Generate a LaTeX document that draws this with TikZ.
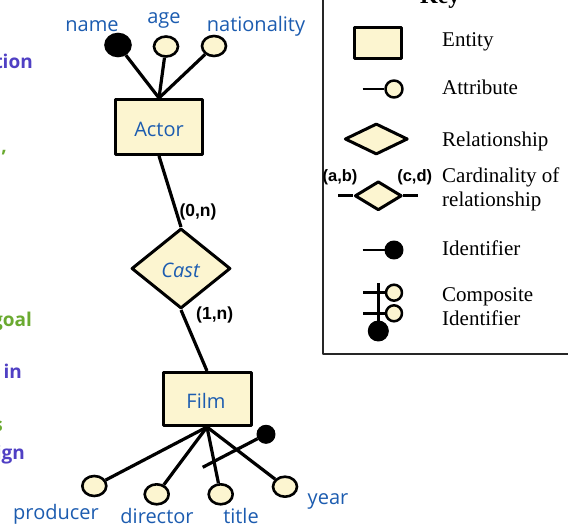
\documentclass[tikz,border=0pt]{standalone}
\usepackage{fontspec}
\setmainfont{Liberation Serif}
\newfontfamily\erfont{Open Sans}
\newfontfamily\cardfont{Liberation Sans}
\usetikzlibrary{shapes.geometric}

\definecolor{cream}{RGB}{252,245,208}
\definecolor{erblue}{RGB}{28,92,176}
\definecolor{notepurple}{RGB}{80,64,196}
\definecolor{notegreen}{RGB}{106,170,48}

\begin{document}
\begin{tikzpicture}[x=1pt,y=-1pt,line join=round,
  entity/.style={draw,line width=3pt,fill=cream,inner sep=0pt},
  relation/.style={draw,diamond,line width=3pt,fill=cream,inner sep=0pt},
  attr/.style={draw,ellipse,line width=2.6pt,fill=cream,inner sep=0pt,
               minimum width=24pt,minimum height=20pt},
  ident/.style={attr,fill=black,minimum width=25pt,minimum height=22pt},
  dot/.style={circle,fill=black,draw,line width=1pt,inner sep=0pt,minimum size=#1},
  keycirc/.style={circle,draw,line width=2.5pt,fill=cream,inner sep=0pt,minimum size=#1},
  link/.style={line width=3.2pt},
  erlabel/.style={text=erblue,font=\erfont\fontsize{20}{24}\selectfont,inner sep=0pt,anchor=base},
  card/.style={font=\cardfont\bfseries\fontsize{17.5}{21}\selectfont,inner sep=0pt},
  keycard/.style={font=\cardfont\bfseries\fontsize{16.5}{20}\selectfont,inner sep=0pt},
  keytext/.style={font=\fontsize{21}{25}\selectfont,inner sep=0pt,anchor=base west},
  note/.style={font=\erfont\bfseries\fontsize{19}{23}\selectfont,inner sep=0pt,anchor=base east}
]
\useasboundingbox (0,0) rectangle (568,527);
\clip (0,0) rectangle (568,527);
\fill[white] (0,0) rectangle (568,527);

% cut-off notes at the left edge
\node[note,text=notepurple] (n1) at (33,69) {tion};
\node[note,text=notegreen] (n2) at (7,152) {n,};
\node[note,text=notegreen] (n3) at (32,326) {goal};
\node[note,text=notepurple] (n4) at (22,378) {in};
\node[note,text=notegreen] (n5) at (3,431) {s};
\node[note,text=notepurple] (n6) at (25,459) {ign};

% entities and relationship
\node[entity,minimum width=87pt,minimum height=55pt] (actor) at (159,127) {};
\node[entity,minimum width=88pt,minimum height=53pt] (film) at (207,399) {};
\node[relation,minimum width=99pt,minimum height=80pt] (cast) at (181,268.5) {};
\node[erlabel] (actorlbl) at (159,136.5) {Actor};
\node[erlabel] (filmlbl) at (206,408) {Film};
\node[erlabel,font=\erfont\itshape\fontsize{20}{24}\selectfont] (castlbl) at (180.5,277) {Cast};

% attributes of Actor
\node[ident] (name) at (118,45) {};
\node[attr] (age) at (166,46.5) {};
\node[attr] (nat) at (214,46) {};
\draw[link] (name) -- (actor.north);
\draw[link] (age) -- (actor.north);
\draw[link] (nat) -- (actor.north);
\node[erlabel] (namelbl) at (92,31.5) {name};
\node[erlabel] (agelbl) at (164,24) {age};
\node[erlabel] (natlbl) at (256,31.5) {nationality};

% attributes of Film
\node[attr] (prod) at (94.3,486) {};
\node[attr] (dir) at (156.7,494.3) {};
\node[attr] (title) at (220.7,494.3) {};
\node[attr] (year) at (285,486.7) {};
\draw[link] (prod) -- (film.south);
\draw[link] (dir) -- (film.south);
\draw[link] (title) -- (film.south);
\draw[link] (year) -- (film.south);
\node[dot=18pt] (fid) at (266,434.3) {};
\coordinate (fidend) at (202.7,467.3);
\draw[link] (fidend) -- (fid);
\node[erlabel] (prodlbl) at (56,519) {producer};
\node[erlabel] (dirlbl) at (157,523) {director};
\node[erlabel] (titlelbl) at (241,523) {title};
\node[erlabel] (yearlbl) at (328,504) {year};

% relationship links with cardinalities
\draw[link] (actor.south) -- (cast.north);
\draw[link] (cast.south) -- (film.north);
\node[card] (c1) at (198,212) {(0,n)};
\node[card] (c2) at (214.7,315) {(1,n)};

% key
\draw[line width=2pt,black!85] (322.5,-5) |- (575,354) coordinate (keycorner);
\node[font=\bfseries\fontsize{23}{27}\selectfont,inner sep=0pt,anchor=base] (keytitle) at (440,4) {Key};

\node[entity,minimum width=47pt,minimum height=30.5pt] (kent) at (377.8,42.8) {};
\node[keytext] (kentl) at (442,46.7) {Entity};

\node[keycirc=17pt] (katt) at (394,89) {};
\coordinate (kattend) at (362.7,89);
\draw[link,line width=2.8pt] (kattend) -- (katt);
\node[keytext] (kattl) at (442,95) {Attribute};

\node[relation,minimum width=63pt,minimum height=31pt] (krel) at (376.3,139) {};
\node[keytext] (krell) at (442,146.7) {Relationship};

\coordinate (kcl) at (338,195.8);
\coordinate (kcr) at (418.3,195.8);
\node[relation,minimum width=47pt,minimum height=29pt] (kcard) at (378.3,195.8) {};
\draw[link,line width=2.8pt] (kcl) -- (kcard.west);
\draw[link,line width=2.8pt] (kcard.east) -- (kcr);
\node[keycard] (kab) at (340,177) {(a,b)};
\node[keycard] (kcd) at (414.7,177) {(c,d)};
\node[keytext] (kcardl1) at (442,182.7) {Cardinality of};
\node[keytext] (kcardl2) at (442,206.7) {relationship};

\node[dot=18pt] (kid) at (394,250) {};
\coordinate (kidend) at (362.7,250);
\draw[link,line width=2.8pt] (kidend) -- (kid);
\node[keytext] (kidl) at (442,255) {Identifier};

\node[dot=20pt] (kcomp) at (378.3,331) {};
\coordinate (kctop) at (378.3,283);
\draw[link,line width=2.8pt] (kctop) -- (kcomp);
\node[keycirc=16pt] (kc1) at (394,292.7) {};
\node[keycirc=16pt] (kc2) at (394,313.3) {};
\coordinate (kc1end) at (363.3,292.7);
\coordinate (kc2end) at (363.3,313.3);
\draw[link,line width=2.8pt] (kc1end) -- (kc1);
\draw[link,line width=2.8pt] (kc2end) -- (kc2);
\node[keytext] (kcompl1) at (442,301.7) {Composite};
\node[keytext] (kcompl2) at (442,325) {Identifier};
\end{tikzpicture}
\end{document}
